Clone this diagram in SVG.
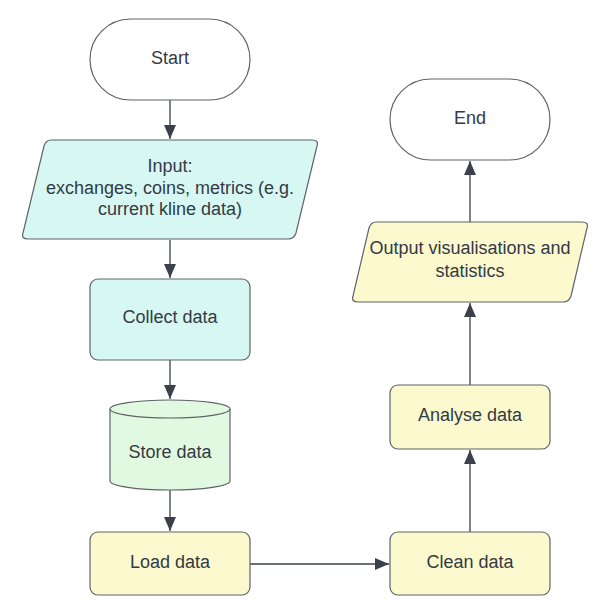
<svg xmlns="http://www.w3.org/2000/svg" width="610" height="616" viewBox="0 0 610 616">
<defs>
<style>
.n{stroke:#5f6369;stroke-width:1.2}
.term{fill:#ffffff}
.cyan{fill:#d7f8f2}
.green{fill:#e2f9e1}
.yel{fill:#fbf9cd}
text{font-family:"Liberation Sans",Arial,sans-serif;font-size:18px;fill:#333a45;text-anchor:middle}
.c{stroke:#3a414a;stroke-width:1.3;fill:none;marker-end:url(#ah)}
</style>
<marker id="ah" markerUnits="userSpaceOnUse" markerWidth="14" markerHeight="12" viewBox="0 0 14 12" refX="14" refY="6" orient="auto">
<path d="M0,0 L14,6 L0,12 Z" fill="#3a414a"/>
</marker>
</defs>
<rect width="610" height="616" fill="#ffffff"/>
<g id="connectors">
<path class="c" d="M170,100 V139"/>
<path class="c" d="M170,240 V278"/>
<path class="c" d="M170,360 V399"/>
<path class="c" d="M170,490 V531"/>
<path class="c" d="M250,564 H389"/>
<path class="c" d="M470,532 V450"/>
<path class="c" d="M470,385 V303"/>
<path class="c" d="M470,222 V161"/>
</g>
<g id="start">
<rect class="n term" x="90" y="19" width="160" height="81" rx="40.5"/>
<text x="170" y="64">Start</text>
</g>
<g id="input">
<path class="n cyan" d="M51,140 H312 Q319,140 317,146 L296,233 Q294,239 288,239 H28 Q21,239 23,233 L44,146 Q46,140 51,140 Z"/>
<text x="170" y="172">Input:</text>
<text x="170" y="194">exchanges, coins, metrics (e.g.</text>
<text x="170" y="215">current kline data)</text>
</g>
<g id="collect">
<rect class="n cyan" x="90" y="279" width="160" height="81" rx="8"/>
<text x="170" y="323">Collect data</text>
</g>
<g id="store">
<path class="n green" d="M110,409 A60,9 0 0 1 230,409 V481 A60,9 0 0 1 110,481 Z"/>
<path class="n" fill="none" d="M110,409 A60,9 0 0 0 230,409"/>
<text x="170" y="458">Store data</text>
</g>
<g id="load">
<rect class="n yel" x="90" y="532" width="160" height="63" rx="8"/>
<text x="170" y="568">Load data</text>
</g>
<g id="clean">
<rect class="n yel" x="390" y="532" width="160" height="63" rx="8"/>
<text x="470" y="568">Clean data</text>
</g>
<g id="analyse">
<rect class="n yel" x="390" y="385" width="160" height="64" rx="8"/>
<text x="470" y="421">Analyse data</text>
</g>
<g id="output">
<path class="n yel" d="M376,222 H582 Q589,222 587,228 L571,296 Q569,302 563,302 H358 Q351,302 353,296 L369,228 Q371,222 376,222 Z"/>
<text x="470" y="254">Output visualisations and</text>
<text x="470" y="277">statistics</text>
</g>
<g id="end">
<rect class="n term" x="390" y="79" width="160" height="81" rx="40.5"/>
<text x="470" y="124">End</text>
</g>
</svg>
